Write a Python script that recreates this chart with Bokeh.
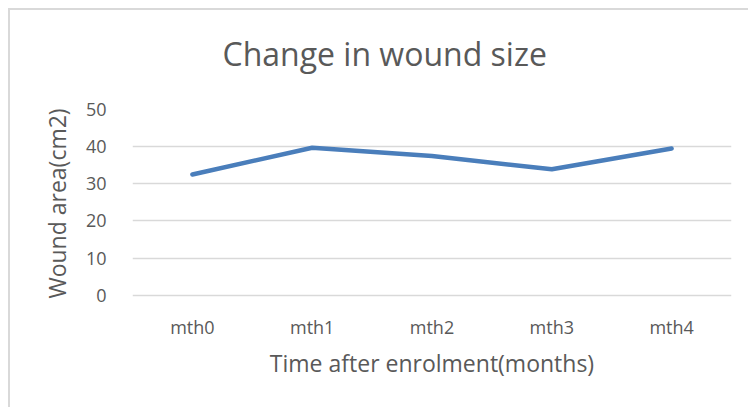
from bokeh.plotting import figure
from bokeh.models import Range1d, FixedTicker, Title
from bokeh.embed import file_html
from bokeh.resources import INLINE

months = ["mth0", "mth1", "mth2", "mth3", "mth4"]
wound_area = [32.5, 39.7, 37.5, 33.9, 39.5]
y_ticks = [0, 10, 20, 30, 40, 50]
title_text = "Change in wound size"

FONT = "Open Sans"
TXT = "#595959"

p = figure(x_range=months, y_range=Range1d(-0.6, 50), width=740, height=399,
           output_backend="svg", toolbar_location=None,
           min_border_left=122, min_border_right=19, min_border_top=99, min_border_bottom=112)
p.outline_line_color = None
p.styles = {"margin-left": "8px", "margin-top": "8px",
            "border-left": "2px solid #d9d9d9", "border-top": "2px solid #d9d9d9"}

p.line(months, wound_area, line_color="#4a7ebb", line_width=4.5, line_cap="round", line_join="round")

p.title = Title(text=title_text + "\n ", align="left", offset=90, text_font=FONT,
                text_font_size="32px", text_font_style="normal", text_color=TXT,
                text_line_height=1.0, standoff=-16)

p.xgrid.grid_line_color = None
p.ygrid.grid_line_color = "#d9d9d9"
p.ygrid.grid_line_width = 1.5
p.yaxis.ticker = FixedTicker(ticks=y_ticks)

for ax in (p.xaxis[0], p.yaxis[0]):
    ax.axis_line_color = None
    ax.major_tick_line_color = None
    ax.minor_tick_line_color = None
    ax.major_label_text_font = FONT
    ax.major_label_text_font_size = "18px"
    ax.major_label_text_color = TXT
    ax.axis_label_text_font = FONT
    ax.axis_label_text_font_size = "23px"
    ax.axis_label_text_font_style = "normal"
    ax.axis_label_text_color = TXT

p.xaxis.axis_label = "Time after enrolment(months)"
p.yaxis.axis_label = "Wound area(cm2)"
p.xaxis.major_label_standoff = 11
p.yaxis.major_label_standoff = 20
p.xaxis.axis_label_standoff = 5
p.yaxis.axis_label_standoff = 10

open("out.html", "w").write(file_html(p, INLINE))
